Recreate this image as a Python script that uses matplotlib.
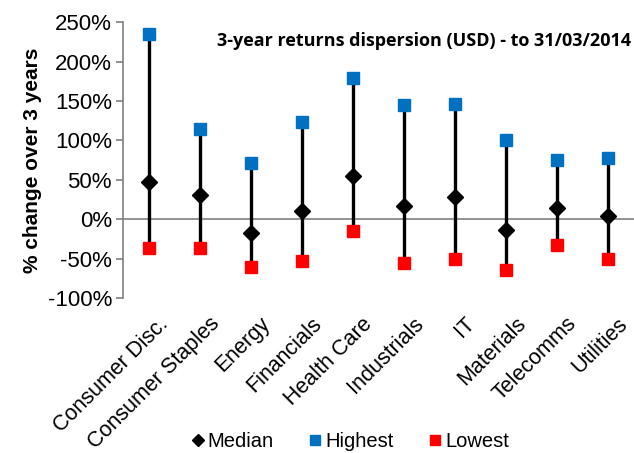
import matplotlib
matplotlib.use("Agg")
import matplotlib.pyplot as plt
from matplotlib.ticker import FuncFormatter
from matplotlib.transforms import ScaledTranslation

sectors = ["Consumer Disc.", "Consumer Staples", "Energy", "Financials", "Health Care",
           "Industrials", "IT", "Materials", "Telecomms", "Utilities"]
highest = [235, 114, 72, 123, 179, 145, 146, 101, 75, 78]
median = [47, 31, -18, 11, 55, 17, 28, -14, 14, 4]
lowest = [-37, -37, -60, -53, -15, -55, -51, -65, -33, -51]

plt.rcParams['font.family'] = ['Liberation Sans', 'DejaVu Sans']

fig = plt.figure(figsize=(6.34, 4.53), dpi=100)
ax = fig.add_axes([0.194, 0.342, 0.806, 0.609])

x = list(range(len(sectors)))
ax.vlines(x, lowest, highest, color="black", linewidth=2.4, zorder=2)
ax.axhline(0, color="#808080", linewidth=1.2, zorder=1)
ax.plot(x, median, linestyle="none", marker="D", color="black", markersize=8, label="Median", zorder=3)
ax.plot(x, highest, linestyle="none", marker="s", color="#0070C0", markersize=9, label="Highest", zorder=3)
ax.plot(x, lowest, linestyle="none", marker="s", color="#FF0000", markersize=9, label="Lowest", zorder=3)

ax.set_xlim(-0.5, len(sectors) - 0.5)
ax.set_ylim(-100, 250)
ax.set_yticks(range(-100, 251, 50))
ax.yaxis.set_major_formatter(FuncFormatter(lambda v, p: f"{int(v)}%"))
ax.tick_params(axis="y", labelsize=16, color="#808080", length=5, width=1.2, pad=3)
ax.set_xticks(x)
ax.set_xticklabels(sectors, rotation=45, ha="right", rotation_mode="anchor", fontsize=15.5)
ax.tick_params(axis="x", length=0, pad=11)
for lbl in ax.get_xticklabels():
    lbl.set_transform(lbl.get_transform() + ScaledTranslation(0.09, 0, fig.dpi_scale_trans))

for s in ["top", "right", "bottom"]:
    ax.spines[s].set_visible(False)
ax.spines["left"].set_color("#808080")
ax.spines["left"].set_linewidth(1.2)

ax.set_ylabel("% change over 3 years", fontsize=15, fontweight="bold", labelpad=4)
ax.text(0.995, 0.965, "3-year returns dispersion (USD) - to 31/03/2014", transform=ax.transAxes,
        ha="right", va="top", fontsize=13, fontweight="bold", family=["Open Sans", "DejaVu Sans"])

fig.legend(loc="lower center", bbox_to_anchor=(0.55, -0.035), ncol=3, frameon=False,
           fontsize=14.5, handletextpad=0.05, columnspacing=1.6, markerscale=0.8, handlelength=0.9)

fig.savefig("out.png", dpi=100)
